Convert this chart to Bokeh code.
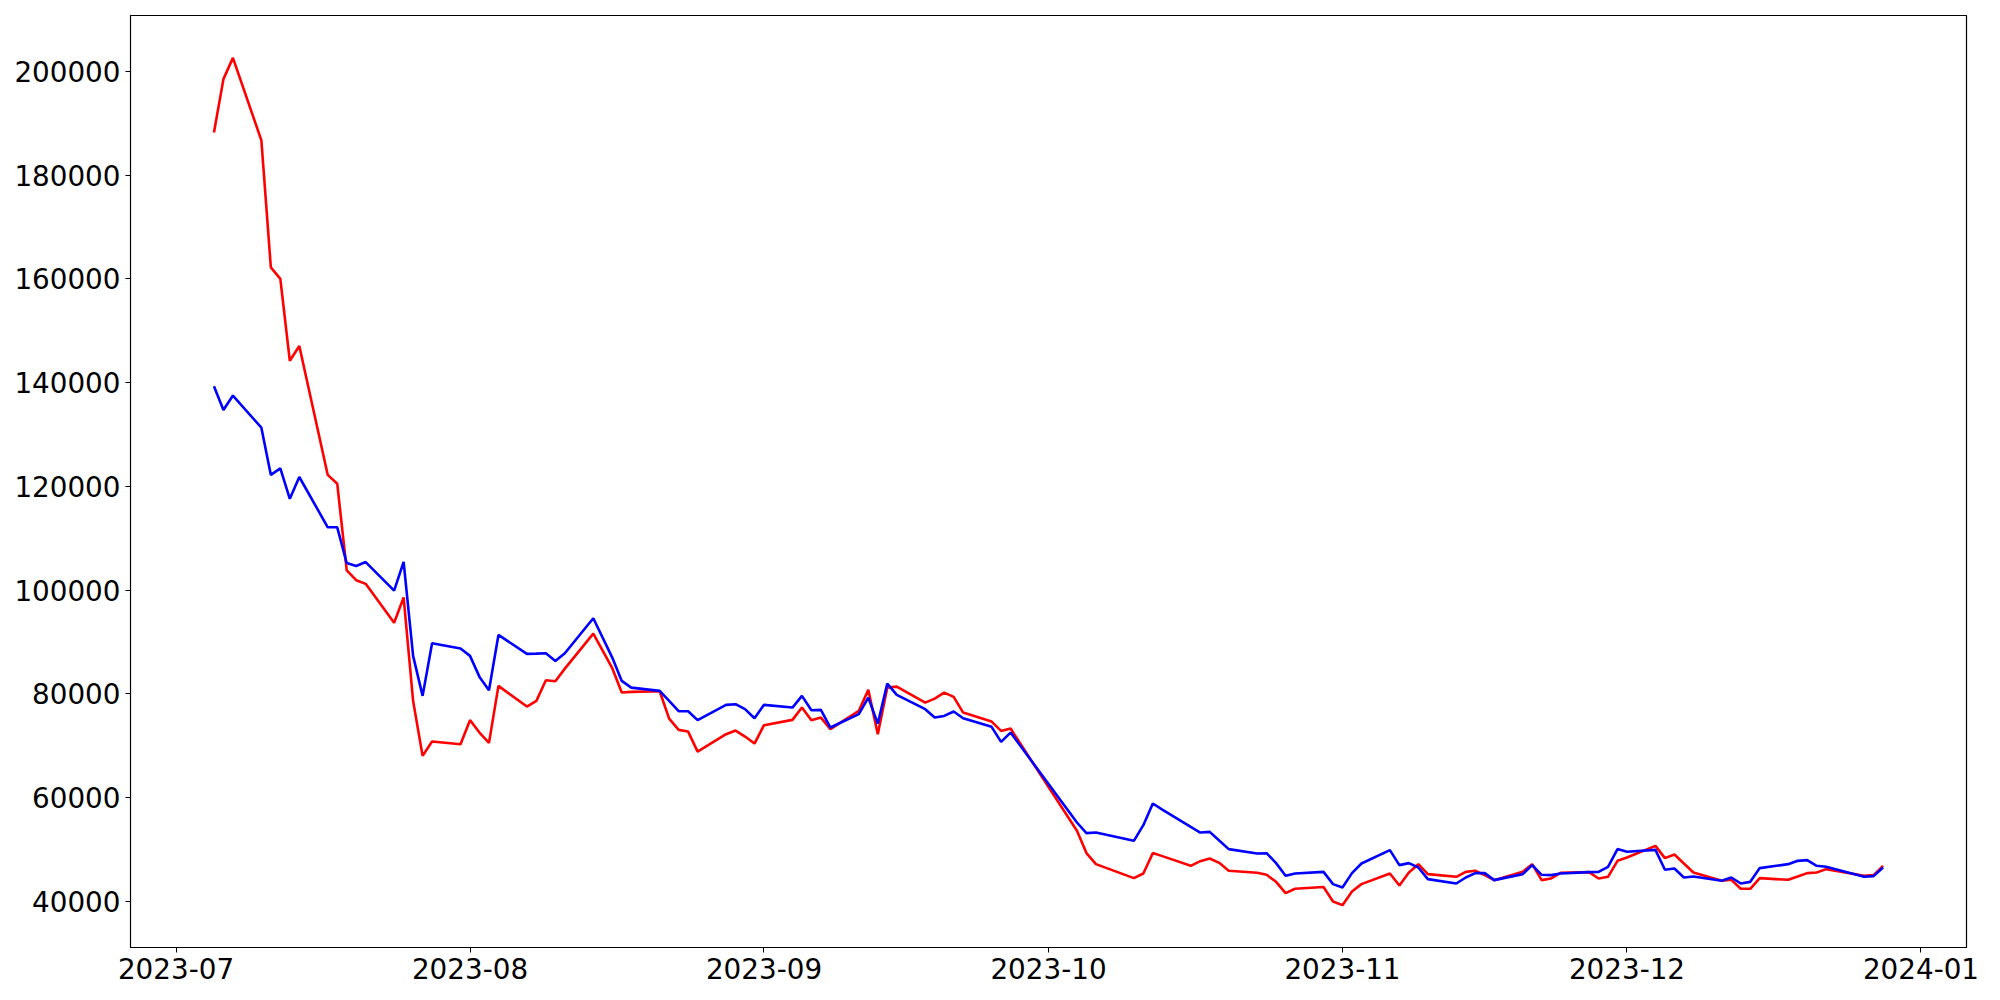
import pandas as pd
from bokeh.plotting import figure
from bokeh.models import (DatetimeTickFormatter, MonthsTicker, SingleIntervalTicker,
                          NumeralTickFormatter, ColumnDataSource)
from bokeh.embed import file_html
from bokeh.resources import INLINE

# ---- data -------------------------------------------------------------
start_date = "2023-07-05"
end_date = "2023-12-28"
closed_days = ["2023-08-15", "2023-09-28", "2023-09-29", "2023-10-02",
               "2023-10-03", "2023-10-09", "2023-12-25"]

red_values = [
    # July
    188200, 198500, 202600, 186700, 162200, 160000, 144200, 147050, 122200, 120500,
    103800, 101900, 101200, 93700, 98600, 78640, 68040, 70800, 70290,
    # August
    74920, 72530, 70540, 81530, 77540, 78640, 82620, 82430, 84860, 91610,
    84940, 80240, 80370, 80500, 75230, 73050, 72720, 68850, 72210, 72920,
    71760, 70410,
    # September
    73950, 74980, 77350, 74920, 75420, 73180, 76710, 80760, 72210, 81200,
    81390, 78310, 79080, 80240, 79410, 76380, 74650, 72850, 73300,
    # October
    53590, 49290, 47170, 44470, 45360, 49290, 48710, 46840, 47740, 48250,
    47420, 45880, 45490, 45110, 43760, 41580, 42410, 42760, 39970,
    # November
    39260, 41890, 43310, 45360, 43050, 45550, 47160, 45240, 44720, 45680,
    45880, 45050, 44080, 45680, 47160, 44080, 44400, 45490, 45620, 44400,
    44720, 47800,
    # December
    48440, 50690, 48320, 49020, 47290, 45550, 43950, 44140, 42410, 42410,
    44470, 44140, 44780, 45430, 45550, 46200, 44910, 45050, 46840,
]

blue_values = [
    # July
    139300, 134700, 137500, 131300, 122200, 123450, 117600, 121800, 112100, 112100,
    105200, 104650, 105400, 99900, 105450, 87310, 79600, 89750, 88720,
    # August
    87310, 83260, 80700, 91350, 87690, 87750, 87820, 86340, 87820, 94570,
    86980, 82490, 81200, 80560, 78640, 76650, 76650, 74920, 77870, 78000,
    77040, 75300,
    # September
    77870, 77350, 79600, 76840, 76900, 73500, 76070, 79270, 74260, 81970,
    79790, 77040, 75420, 75740, 76580, 75300, 73630, 70740, 72530,
    # October
    55190, 53140, 53260, 51660, 54680, 58850, 57690, 54360, 53260, 53390,
    51720, 50060, 49210, 49270, 47360, 44910, 45360, 45680, 43310,
    # November
    42660, 45430, 47290, 49860, 46970, 47360, 46520, 44280, 43430, 44590,
    45430, 45430, 44080, 45240, 46970, 45110, 45050, 45360, 45620, 45680,
    46650, 50060,
    # December
    49540, 49920, 46070, 46330, 44590, 44780, 43950, 44590, 43430, 43750,
    46400, 47160, 47800, 47930, 46840, 46650, 44720, 44850, 46520,
]

dates = [d for d in pd.bdate_range(start_date, end_date)
         if d.strftime("%Y-%m-%d") not in closed_days]

src = ColumnDataSource(dict(date=dates, red=red_values, blue=blue_values))

# ---- figure -----------------------------------------------------------
p = figure(x_axis_type="datetime",
           frame_width=1836, frame_height=932,
           min_border_left=130, min_border_top=15,
           min_border_right=26, min_border_bottom=44,
           output_backend="svg", toolbar_location=None,
           background_fill_color="white", border_fill_color="white")

p.line("date", "red", source=src, line_color="red", line_width=2.6)
p.line("date", "blue", source=src, line_color="blue", line_width=2.6)

p.grid.visible = False
p.outline_line_color = "black"
p.outline_line_width = 1.2
p.outline_line_alpha = 1.0

p.xaxis.ticker = MonthsTicker(months=list(range(1, 13)))
p.xaxis.formatter = DatetimeTickFormatter(months="%Y-%m", days="%Y-%m",
                                          years="%Y-%m")
p.yaxis.ticker = SingleIntervalTicker(interval=20000, num_minor_ticks=0)
p.yaxis.formatter = NumeralTickFormatter(format="0")

for ax in (p.xaxis[0], p.yaxis[0]):
    ax.major_label_text_font = "DejaVu Sans"
    ax.major_label_text_font_size = "27.8px"
    ax.major_label_text_color = "black"
    ax.major_tick_out = 5
    ax.major_tick_in = 0
    ax.minor_tick_out = 0
    ax.minor_tick_in = 0
    ax.axis_line_color = "black"
    ax.major_tick_line_color = "black"
    ax.major_label_standoff = 5

open("out.html", "w").write(file_html(p, INLINE))
